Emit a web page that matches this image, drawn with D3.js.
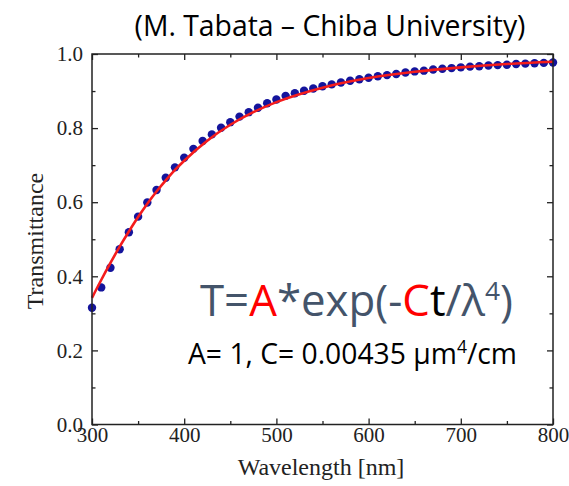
<!DOCTYPE html>
<html>
<head>
<meta charset="utf-8">
<script src="https://d3js.org/d3.v7.min.js"></script>
<style>
  body { margin: 0; background: #fff; }
  svg { display: block; }
</style>
</head>
<body>
<svg id="chart"></svg>
<script>
// measured data points (wavelength nm, transmittance)
const dotNm = [300,310,320,330,340,350,360,370,380,390,400,410,420,430,440,450,460,470,480,490,
               500,510,520,530,540,550,560,570,580,590,600,610,620,630,640,650,660,670,680,690,
               700,710,720,730,740,750,760,770,780,790,800];
const dotT = [0.315,0.370,0.423,0.473,0.519,0.561,0.599,0.633,0.666,0.694,0.720,0.744,0.765,0.783,0.801,0.816,0.831,0.843,0.855,0.867,
              0.877,0.887,0.894,0.901,0.907,0.913,0.918,0.923,0.928,0.932,0.936,0.940,0.943,0.946,0.950,0.953,0.955,0.958,0.960,0.962,
              0.964,0.966,0.967,0.969,0.970,0.971,0.973,0.974,0.975,0.976,0.977];
// fitted curve
const fitNm = [300,310,320,330,340,350,360,370,380,390,400,425,450,475,500,550,600,650,700,750,800];
const fitT = [0.342,0.390,0.436,0.480,0.521,0.560,0.596,0.629,0.659,0.687,0.712,0.766,0.809,0.843,0.870,0.909,0.935,0.952,0.964,0.973,0.979];
const xMajor = [300,400,500,600,700,800];
const xMinor = [350,450,550,650,750];
const yMajor = [0.0,0.2,0.4,0.6,0.8,1.0];
const yMinor = [0.1,0.3,0.5,0.7,0.9];

const W = 569, H = 486;
const pL = 92, pR = 553, pT = 54, pB = 424.5;

const svg = d3.select("#chart").attr("width", W).attr("height", H);

const x = d3.scaleLinear().domain([300, 800]).range([pL, pR]);
const y = d3.scaleLinear().domain([0, 1]).range([pB, pT]);

function fitWidth(sel, target) {
  const node = sel.node();
  const fs = parseFloat(sel.attr("font-size"));
  const w = node.getComputedTextLength();
  sel.attr("font-size", (fs * target / w).toFixed(2));
}

// title
const title = svg.append("text")
  .attr("x", 330).attr("y", 36)
  .attr("text-anchor", "middle")
  .attr("font-family", "Open Sans")
  .attr("font-size", 24)
  .attr("fill", "#000")
  .text("(M. Tabata – Chiba University)");
fitWidth(title, 391);

// data points
svg.append("g").selectAll("circle")
  .data(dotNm.map((d, i) => [d, dotT[i]]))
  .join("circle")
  .attr("cx", d => x(d[0]))
  .attr("cy", d => y(d[1]))
  .attr("r", 4.2)
  .attr("fill", "#14149c");

// fit line
svg.append("path")
  .datum(fitNm.map((d, i) => [d, fitT[i]]))
  .attr("fill", "none")
  .attr("stroke", "#f41c1c")
  .attr("stroke-width", 2.6)
  .attr("d", d3.line().x(d => x(d[0])).y(d => y(d[1])).curve(d3.curveMonotoneX));

// axes, ticks pointing inward on all four sides
const tickFont = g => g.selectAll("text")
  .attr("font-family", "Liberation Serif").attr("font-size", 21).attr("fill", "#222");
function styleAxis(g) {
  g.select(".domain").remove();
  g.selectAll("line").attr("stroke", "#222").attr("stroke-width", 1.3);
}
svg.append("g").attr("transform", `translate(0,${pB})`)
  .call(d3.axisBottom(x).tickValues(xMajor).tickSize(-6).tickPadding(3).tickFormat(d3.format("d")))
  .call(styleAxis)
  .call(tickFont);
svg.append("g").attr("transform", `translate(0,${pB})`)
  .call(d3.axisBottom(x).tickValues(xMinor).tickSize(-3.5).tickFormat(""))
  .call(styleAxis);
svg.append("g").attr("transform", `translate(0,${pT})`)
  .call(d3.axisTop(x).tickValues(xMajor).tickSize(-6).tickFormat(""))
  .call(styleAxis);
svg.append("g").attr("transform", `translate(0,${pT})`)
  .call(d3.axisTop(x).tickValues(xMinor).tickSize(-3.5).tickFormat(""))
  .call(styleAxis);
svg.append("g").attr("transform", `translate(${pL},0)`)
  .call(d3.axisLeft(y).tickValues(yMajor).tickSize(-6).tickPadding(9).tickFormat(d3.format(".1f")))
  .call(styleAxis)
  .call(tickFont);
svg.append("g").attr("transform", `translate(${pL},0)`)
  .call(d3.axisLeft(y).tickValues(yMinor).tickSize(-3.5).tickFormat(""))
  .call(styleAxis);
svg.append("g").attr("transform", `translate(${pR},0)`)
  .call(d3.axisRight(y).tickValues(yMajor).tickSize(-6).tickFormat(""))
  .call(styleAxis);
svg.append("g").attr("transform", `translate(${pR},0)`)
  .call(d3.axisRight(y).tickValues(yMinor).tickSize(-3.5).tickFormat(""))
  .call(styleAxis);

// frame
svg.append("rect")
  .attr("x", pL).attr("y", pT)
  .attr("width", pR - pL).attr("height", pB - pT)
  .attr("fill", "none").attr("stroke", "#222").attr("stroke-width", 1.5);

// axis titles
svg.append("text")
  .attr("x", 321).attr("y", 475)
  .attr("text-anchor", "middle")
  .attr("font-family", "Liberation Serif").attr("font-size", 24).attr("fill", "#222")
  .text("Wavelength [nm]");
svg.append("text")
  .attr("transform", `translate(43,241) rotate(-90)`)
  .attr("text-anchor", "middle")
  .attr("font-family", "Liberation Serif").attr("font-size", 24).attr("fill", "#222")
  .text("Transmittance");

// formula
const slate = "#44546a";
const f = svg.append("text")
  .attr("x", 200).attr("y", 316)
  .attr("font-family", "Open Sans").attr("font-size", 38)
  .attr("fill", slate);
f.append("tspan").text("T=");
f.append("tspan").attr("fill", "#ff0000").text("A");
f.append("tspan").text("*exp(-");
f.append("tspan").attr("fill", "#ff0000").text("C");
f.append("tspan").attr("fill", "#000").text("t");
f.append("tspan").text("/λ");
f.append("tspan").attr("font-size", "0.6em").attr("dy", "-0.6em").text("4");
f.append("tspan").attr("dy", "0.36em").text(")");
fitWidth(f, 313);

const p = svg.append("text")
  .attr("x", 188).attr("y", 364)
  .attr("font-family", "Open Sans").attr("font-size", 24)
  .attr("fill", "#000");
p.append("tspan").text("A= 1, C= 0.00435 μm");
p.append("tspan").attr("font-size", "0.62em").attr("dy", "-0.6em").text("4");
p.append("tspan").attr("dy", "0.37em").text("/cm");
fitWidth(p, 329);
</script>
</body>
</html>
